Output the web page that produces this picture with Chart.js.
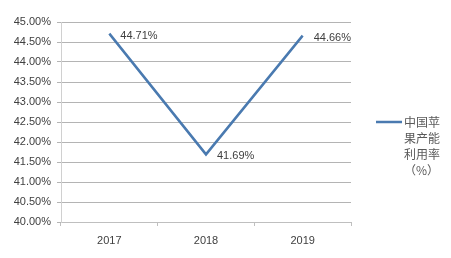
<!DOCTYPE html>
<html><head><meta charset="utf-8">
<script src="https://cdn.jsdelivr.net/npm/chart.js@4/dist/chart.umd.min.js"></script>
<style>html,body{margin:0;padding:0;background:#fff;}#wrap{width:451px;height:258px;}</style>
</head><body><div id="wrap"><canvas id="c" width="451" height="258"></canvas></div>
<script>
const categories = ['2017', '2018', '2019'];
const seriesName = '中国苹果产能利用率（%）';
const legendLines = ['中国苹', '果产能', '利用率', '（%）'];
const values = [44.71, 41.69, 44.66];
const yMin = 40, yMax = 45, yStep = 0.5;

const lineColor = '#4a7ab0';
const textColor = '#404040';
const font = '"Liberation Sans", "DejaVu Sans", sans-serif';

const labelPlugin = {
  id: 'labels',
  afterDatasetsDraw(chart) {
    const ctx = chart.ctx;
    const meta = chart.getDatasetMeta(0);
    ctx.save();
    ctx.font = '11px ' + font;
    ctx.fillStyle = textColor;
    ctx.textBaseline = 'middle';
    ctx.textAlign = 'left';
    meta.data.forEach((pt, i) => {
      ctx.fillText(values[i].toFixed(2) + '%', pt.x + 11, pt.y + 2);
    });
    // legend
    const ly = 122;
    ctx.strokeStyle = lineColor;
    ctx.lineWidth = 2.5;
    ctx.beginPath();
    ctx.moveTo(376, ly);
    ctx.lineTo(402, ly);
    ctx.stroke();
    ctx.font = '12px "Noto Sans CJK SC", sans-serif';
    ctx.fillStyle = '#595959';
    legendLines.forEach((t, i) => {
      ctx.fillText(t, 404, ly + i * 16);
    });
    ctx.restore();
  }
};

new Chart(document.getElementById('c'), {
  type: 'line',
  data: {
    labels: categories,
    datasets: [{
      label: seriesName,
      data: values,
      borderColor: lineColor,
      borderWidth: 2.5,
      pointRadius: 0,
      tension: 0,
      fill: false
    }]
  },
  options: {
    responsive: false,
    animation: false,
    devicePixelRatio: 1,
    layout: { padding: { top: 22, right: 100, left: 0, bottom: 0 } },
    plugins: { legend: { display: false }, tooltip: { enabled: false } },
    scales: {
      x: {
        offset: true,
        grid: { display: true, drawOnChartArea: false, drawTicks: true, tickLength: 4, offset: true, color: '#bfbfbf' },
        border: { display: true, color: '#bfbfbf' },
        ticks: { color: textColor, font: { size: 11, family: font }, padding: 8 },
        afterFit(s) { s.height = 36; }
      },
      y: {
        min: yMin, max: yMax,
        grid: { color: '#b4b4b4', tickLength: 4, drawTicks: true },
        border: { display: true, color: '#d0d0d0' },
        ticks: {
          stepSize: yStep,
          color: textColor,
          font: { size: 11, family: font },
          padding: 6,
          callback: v => v.toFixed(2) + '%'
        },
        afterFit(s) { s.width = 61; }
      }
    }
  },
  plugins: [labelPlugin]
});
</script></body></html>
